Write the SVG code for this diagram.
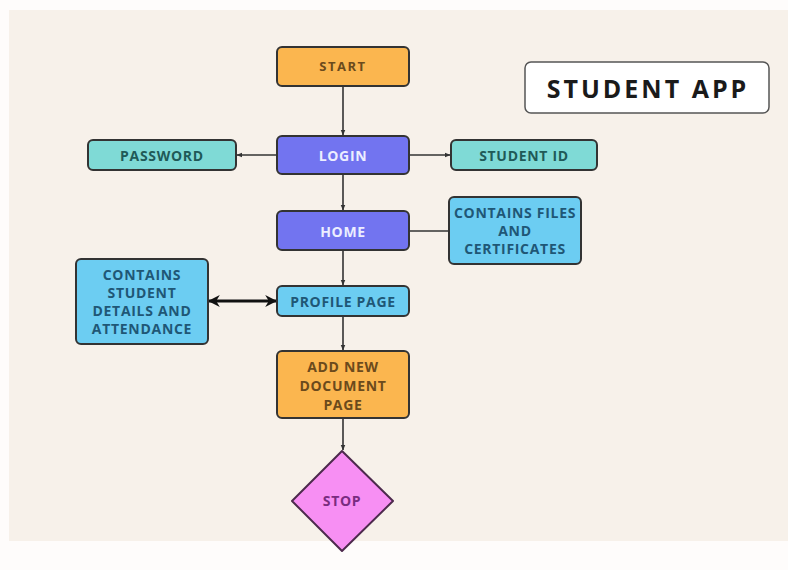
<svg xmlns="http://www.w3.org/2000/svg" width="788" height="570" viewBox="0 0 788 570">
<style>
.box{stroke:#333;stroke-width:2}
.t{font-family:"Open Sans","Liberation Sans",sans-serif;font-weight:700;font-size:14px;letter-spacing:0.7px;text-anchor:middle;dominant-baseline:central}
.c{stroke:#333;stroke-width:1.6;fill:none}
</style>
<defs>
<marker id="a" viewBox="0 0 10 10" refX="9" refY="5" markerWidth="6" markerHeight="6" orient="auto-start-reverse" markerUnits="userSpaceOnUse"><path d="M0,1 L10,5 L0,9 z" fill="#333"/></marker>
<marker id="b" viewBox="0 0 10 10" refX="9" refY="5" markerWidth="12" markerHeight="12" orient="auto-start-reverse" markerUnits="userSpaceOnUse"><path d="M0,0 L10,5 L0,10 L3,5 z" fill="#111"/></marker>
</defs>
<rect x="0" y="0" width="788" height="570" fill="#fefcfb"/>
<rect x="9" y="10" width="779" height="531" fill="#f7f1ea"/>
<g id="connectors">
<line class="c" x1="343" y1="87" x2="343" y2="135" marker-end="url(#a)"/>
<line class="c" x1="277" y1="155" x2="237" y2="155" marker-end="url(#a)"/>
<line class="c" x1="409" y1="155" x2="450" y2="155" marker-end="url(#a)"/>
<line class="c" x1="343" y1="175" x2="343" y2="210" marker-end="url(#a)"/>
<line class="c" x1="409" y1="231" x2="449" y2="231"/>
<line class="c" x1="343" y1="251" x2="343" y2="285" marker-end="url(#a)"/>
<line x1="209" y1="301" x2="276" y2="301" stroke="#111" stroke-width="3" marker-start="url(#b)" marker-end="url(#b)"/>
<line class="c" x1="343" y1="317" x2="343" y2="350" marker-end="url(#a)"/>
<line class="c" x1="343" y1="419" x2="343" y2="450" marker-end="url(#a)"/>
</g>
<g id="title">
<rect x="525" y="62" width="244" height="51" rx="6" fill="#fff" stroke="#555" stroke-width="1.5"/>
<text class="t" x="648" y="88" style="font-size:25px;letter-spacing:3px" fill="#1a1a1a">STUDENT APP</text>
</g>
<g id="start">
<rect class="box" x="277" y="47" width="132" height="39" rx="5" fill="#fbb64f"/>
<text class="t" x="343" y="66" fill="#6b4a1c" style="font-size:13px;letter-spacing:1.5px">START</text>
</g>
<g id="login">
<rect class="box" x="277" y="136" width="132" height="38" rx="5" fill="#7274f0"/>
<text class="t" x="343" y="155" fill="#eceeff">LOGIN</text>
</g>
<g id="password">
<rect class="box" x="88" y="140" width="148" height="30" rx="5" fill="#7fdad6"/>
<text class="t" x="162" y="155" fill="#1f5a58">PASSWORD</text>
</g>
<g id="studentid">
<rect class="box" x="451" y="140" width="146" height="30" rx="5" fill="#7fdad6"/>
<text class="t" x="524" y="155" fill="#1f5a58">STUDENT ID</text>
</g>
<g id="home">
<rect class="box" x="277" y="211" width="132" height="39" rx="5" fill="#7274f0"/>
<text class="t" x="343" y="231" fill="#eceeff">HOME</text>
</g>
<g id="files">
<rect class="box" x="449" y="197" width="132" height="67" rx="5" fill="#6ccdf2"/>
<text class="t" x="515" y="212" fill="#1f5776">CONTAINS FILES</text>
<text class="t" x="515" y="230" fill="#1f5776">AND</text>
<text class="t" x="515" y="248" fill="#1f5776">CERTIFICATES</text>
</g>
<g id="details">
<rect class="box" x="76" y="259" width="132" height="85" rx="5" fill="#6ccdf2"/>
<text class="t" x="142" y="274" fill="#1f5776">CONTAINS</text>
<text class="t" x="142" y="292" fill="#1f5776">STUDENT</text>
<text class="t" x="142" y="310" fill="#1f5776">DETAILS AND</text>
<text class="t" x="142" y="328" fill="#1f5776">ATTENDANCE</text>
</g>
<g id="profile">
<rect class="box" x="277" y="286" width="132" height="30" rx="5" fill="#6ccdf2"/>
<text class="t" x="343" y="301" fill="#1f5776">PROFILE PAGE</text>
</g>
<g id="adddoc">
<rect class="box" x="277" y="351" width="132" height="67" rx="5" fill="#fbb64f"/>
<text class="t" x="343" y="366" fill="#6b4a1c">ADD NEW</text>
<text class="t" x="343" y="385" fill="#6b4a1c">DOCUMENT</text>
<text class="t" x="343" y="404" fill="#6b4a1c">PAGE</text>
</g>
<g id="stop">
<polygon points="342,451 393,501 342,551 292,501" fill="#f78ff3" stroke="#4d2a4d" stroke-width="2" stroke-linejoin="round"/>
<text class="t" x="342" y="500" fill="#7a2c80">STOP</text>
</g>
</svg>
